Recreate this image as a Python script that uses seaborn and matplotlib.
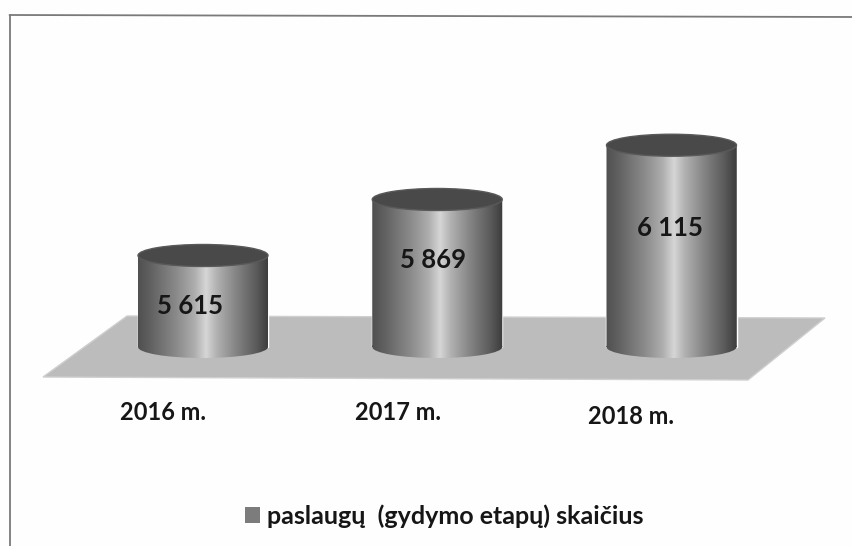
import numpy as np
import pandas as pd
import matplotlib
matplotlib.use("Agg")
import matplotlib.pyplot as plt
import seaborn as sns
from matplotlib.colors import LinearSegmentedColormap
from matplotlib.lines import Line2D
from matplotlib.patches import Ellipse, Polygon, Patch
from matplotlib.path import Path

# ---- data ----
years = ["2016 m.", "2017 m.", "2018 m."]
services = [5615, 5869, 6115]
value_labels = ["5 615", "5 869", "6 115"]
legend_label = "paslaugų  (gydymo etapų) skaičius"

# ---- scale: value axis of the pseudo 3-D chart ----
W, H = 853, 546
BASE = 5200
UNITS_PER_PX = 4.535
BASE_PX = 347
PX_PER_CAT = 234.25
X0_PX = 203
BAR_WIDTH = 0.555
ELLIPSE_H = 22 * UNITS_PER_PX


def px_x(px):
    return (px - X0_PX) / PX_PER_CAT


def px_y(py):
    return BASE + (BASE_PX - py) * UNITS_PER_PX


sns.set_theme(style="white")
plt.rcParams["font.family"] = ["Lato", "DejaVu Sans"]
plt.rcParams["font.weight"] = "bold"

fig = plt.figure(figsize=(W / 100, H / 100), dpi=100, facecolor="#fefefe")
ax = fig.add_axes([0, 0, 1, 1])
ax.set_facecolor("#fefefe")

df = pd.DataFrame({"year": years, "services": services})
sns.barplot(data=df, x="year", y="services", color="#808080", saturation=1,
            width=BAR_WIDTH, ax=ax, zorder=2)

floor = [(43, 377), (127, 316), (825, 318), (748, 380)]
ax.add_patch(Polygon([(px_x(a), px_y(b)) for a, b in floor], closed=True,
                     facecolor="#bcbcbc", edgecolor="#cfcfcf", lw=1, zorder=1))

cyl = LinearSegmentedColormap.from_list("cyl", [
    (0.00, "#505050"), (0.10, "#626262"), (0.30, "#8c8c8c"), (0.43, "#adadad"),
    (0.52, "#d6d6d6"), (0.60, "#b2b2b2"), (0.75, "#848484"), (0.90, "#5c5c5c"),
    (1.00, "#3c3c3c")])
grad = np.linspace(0, 1, 256).reshape(1, -1)

for bar in list(ax.patches):
    if isinstance(bar, Polygon):
        continue
    top = bar.get_height()
    bar.set_y(BASE)
    bar.set_height(top - BASE)
    cx = bar.get_x() + bar.get_width() / 2
    x0, x1 = bar.get_x(), bar.get_x() + bar.get_width()
    base_el = Ellipse((cx, BASE), bar.get_width(), ELLIPSE_H, facecolor="none", edgecolor="none")
    ax.add_patch(base_el)
    clip = Path.make_compound_path(
        bar.get_path().transformed(bar.get_patch_transform()),
        base_el.get_path().transformed(base_el.get_patch_transform()))
    im = ax.imshow(grad, cmap=cyl, vmin=0, vmax=1, aspect="auto", zorder=3,
                   extent=(x0, x1, BASE - ELLIPSE_H, top), interpolation="bilinear")
    im.set_clip_path(clip, transform=ax.transData)
    ax.add_patch(Ellipse((cx, top), bar.get_width(), ELLIPSE_H, facecolor="#494949",
                         edgecolor="#595959", lw=1, zorder=4))

ax.set_xlim(px_x(0), px_x(W))
ax.set_ylim(px_y(H), px_y(0))
ax.axis("off")

value_pos = [(190, 306), (433, 260), (670, 228)]
for lab, (a, b) in zip(value_labels, value_pos):
    ax.text(px_x(a), px_y(b), lab, ha="center", va="center", fontsize=18.5,
            color="#161616", zorder=5)

year_pos = [(163, 412), (398, 412), (631, 416)]
for lab, (a, b) in zip(years, year_pos):
    ax.text(px_x(a), px_y(b), lab, ha="center", va="center", fontsize=17,
            color="#161616", zorder=5)

ax.legend(handles=[Patch(facecolor="#7c7c7c", edgecolor="none", label=legend_label)],
          loc="center left", bbox_to_anchor=(245 / W, 1 - 516 / H), frameon=False,
          fontsize=18, handlelength=0.6, handleheight=0.6, handletextpad=0.28,
          borderpad=0, borderaxespad=0,
          labelcolor="#161616", bbox_transform=fig.transFigure)

# scanned page frame
for xs, ys in [((9.5 / W, 9.5 / W), (0, 1 - 15 / H)),
               ((9.5 / W, 1), (1 - 15 / H, 1 - 17 / H))]:
    fig.add_artist(Line2D(xs, ys, color="#7a7a7a", lw=1.3))

fig.savefig("out.png", dpi=100, facecolor=fig.get_facecolor())
